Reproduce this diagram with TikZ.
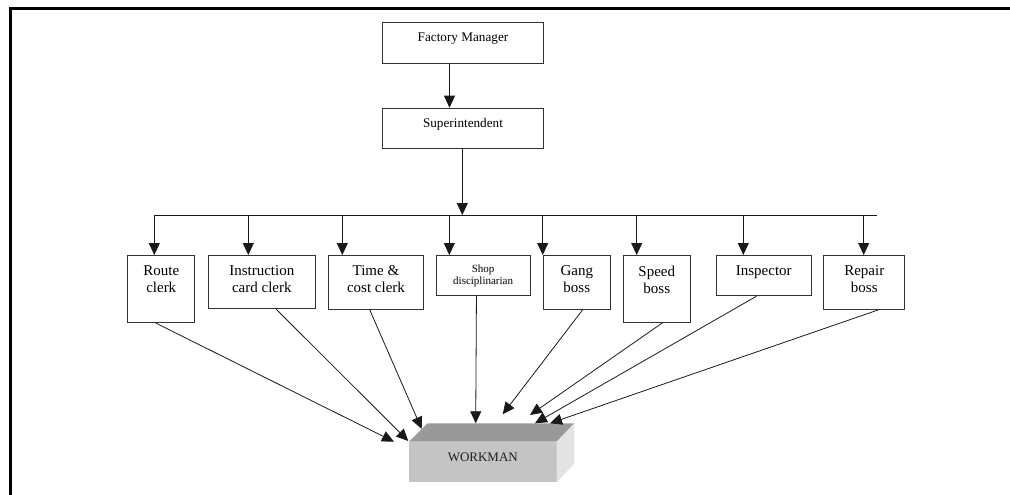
\documentclass[tikz,border=0pt]{standalone}
\usepackage{fontspec}
\setmainfont{Liberation Serif}
\usetikzlibrary{arrows.meta,calc}
\begin{document}
\begin{tikzpicture}[x=1pt,y=-1pt,
  box/.style={draw=black!80, fill=white, line width=0.9pt, inner sep=0pt, anchor=north west},
  txt/.style={anchor=north, align=center, inner sep=0pt, font=\fontsize{15}{17}\selectfont},
  smalltxt/.style={anchor=north, align=center, inner sep=0pt, font=\fontsize{11}{12.6}\selectfont},
  toptxt/.style={anchor=north, align=center, inner sep=0pt, font=\fontsize{13.2}{15}\selectfont},
  arr/.style={-{Triangle[length=12pt,width=11pt]}, line width=0.8pt, black!90},
  wire/.style={line width=0.8pt, black!90},
  frame/.style={line width=2.5pt, black}]
\useasboundingbox (0,0) rectangle (1010,495);

% page frame
\coordinate (fbl) at (10.5,495);
\coordinate (ftl) at (10.5,8.5);
\coordinate (ftr) at (1010,8.5);
\draw[frame] (fbl) -- (ftl) -- (ftr);

% top of the hierarchy
\node[box, minimum width=160.5pt, minimum height=40.5pt] (fm) at (382.3,22.3) {};
\node[toptxt] (fmt) at ([yshift=-10pt]fm.north) {Factory Manager};
\node[box, minimum width=160.5pt, minimum height=40.5pt] (sup) at (382.3,107.7) {};
\node[toptxt] (supt) at ([yshift=-10.6pt]sup.north) {Superintendent};
\draw[arr] ([xshift=-13.5pt]fm.south) -- ([xshift=-13.5pt]sup.north);

% functional foremen and clerks
\node[box, minimum width=67pt,   minimum height=67pt] (route) at (127.3,255) {};
\node[box, minimum width=107.3pt, minimum height=53.3pt] (instr) at (207.7,255) {};
\node[box, minimum width=94.4pt, minimum height=54pt] (time) at (328.3,255) {};
\node[box, minimum width=94pt,   minimum height=40.3pt] (shop) at (435.7,255) {};
\node[box, minimum width=67.3pt, minimum height=53.7pt] (gang) at (542.7,255) {};
\node[box, minimum width=67.3pt, minimum height=66.7pt] (speed) at (622.7,255) {};
\node[box, minimum width=94.7pt, minimum height=40.3pt] (insp) at (716,255) {};
\node[box, minimum width=81pt,   minimum height=54pt] (repair) at (823.3,255) {};

\node[txt] (routet) at ([yshift=-10.7pt]route.north) {Route\\clerk};
\node[txt] (instrt) at ([yshift=-10.7pt]instr.north) {Instruction\\card clerk};
\node[txt] (timet) at ([yshift=-10.7pt]time.north) {Time \&\\cost clerk};
\node[smalltxt] (shopt) at ([yshift=-9.3pt]shop.north) {Shop\\disciplinarian};
\node[txt] (gangt) at ([yshift=-10.7pt]gang.north) {Gang\\boss};
\node[txt] (speedt) at ([yshift=-10.7pt]speed.north) {Speed\\boss};
\node[txt] (inspt) at ([yshift=-10.7pt]insp.north) {Inspector};
\node[txt] (repairt) at ([yshift=-10.7pt]repair.north) {Repair\\boss};

% distribution bus
\coordinate (bj) at (462.3,215);
\coordinate (b1) at (154.3,215);
\coordinate (b2) at (248.3,215);
\coordinate (b3) at (342.3,215);
\coordinate (b4) at (449.3,215);
\coordinate (b5) at (542.7,215);
\coordinate (b6) at (636.7,215);
\coordinate (b7) at (743.3,215);
\coordinate (b8) at (863.7,215);
\coordinate (bend) at (877.3,215);
\draw[wire] (b1) -- (bend);
\draw[arr] (bj |- sup.south) -- (bj);
\draw[arr] (b1) -- (b1 |- route.north);
\draw[arr] (b2) -- (b2 |- instr.north);
\draw[arr] (b3) -- (b3 |- time.north);
\draw[arr] (b4) -- (b4 |- shop.north);
\draw[arr] (b5) -- (b5 |- gang.north);
\draw[arr] (b6) -- (b6 |- speed.north);
\draw[arr] (b7) -- (b7 |- insp.north);
\draw[arr] (b8) -- (b8 |- repair.north);

% the workman block
\fill[black!23] (409,441.7) rectangle (556.7,482.3);
\fill[black!40] (409,441.7) -- (427.7,423.3) -- (574.3,423.3) -- (556.7,441.7) -- cycle;
\fill[black!11] (556.7,441.7) -- (574.3,423.3) -- (574.3,463.5) -- (556.7,482.3) -- cycle;
\node[inner sep=0pt, font=\fontsize{13}{15}\selectfont, text=black!88] (wm) at (482.8,457) {WORKMAN};

% where each line meets the block
\coordinate (w1) at (394,441.7);
\coordinate (w2) at (408.3,441);
\coordinate (w3) at (421.7,429);
\coordinate (w4) at (475.7,423.3);
\coordinate (w5) at (502.7,414.3);
\coordinate (w6) at (530,415);
\coordinate (w7) at (535,423.3);
\coordinate (w8) at (550,423.3);

\draw[arr] ([xshift=-5.8pt]route.south) -- (w1);
\draw[arr] ([xshift=14.4pt]instr.south) -- (w2);
\draw[arr] ([xshift=-6.2pt]time.south) -- (w3);
\draw[arr] ([xshift=-6.7pt]shop.south) -- (w4);
\draw[arr] ([xshift=6pt]gang.south) -- (w5);
\draw[arr] ([xshift=6pt]speed.south) -- (w6);
\draw[arr] ([xshift=-7.3pt]insp.south) -- (w7);
\draw[arr] ([xshift=14pt]repair.south) -- (w8);
\end{tikzpicture}
\end{document}
